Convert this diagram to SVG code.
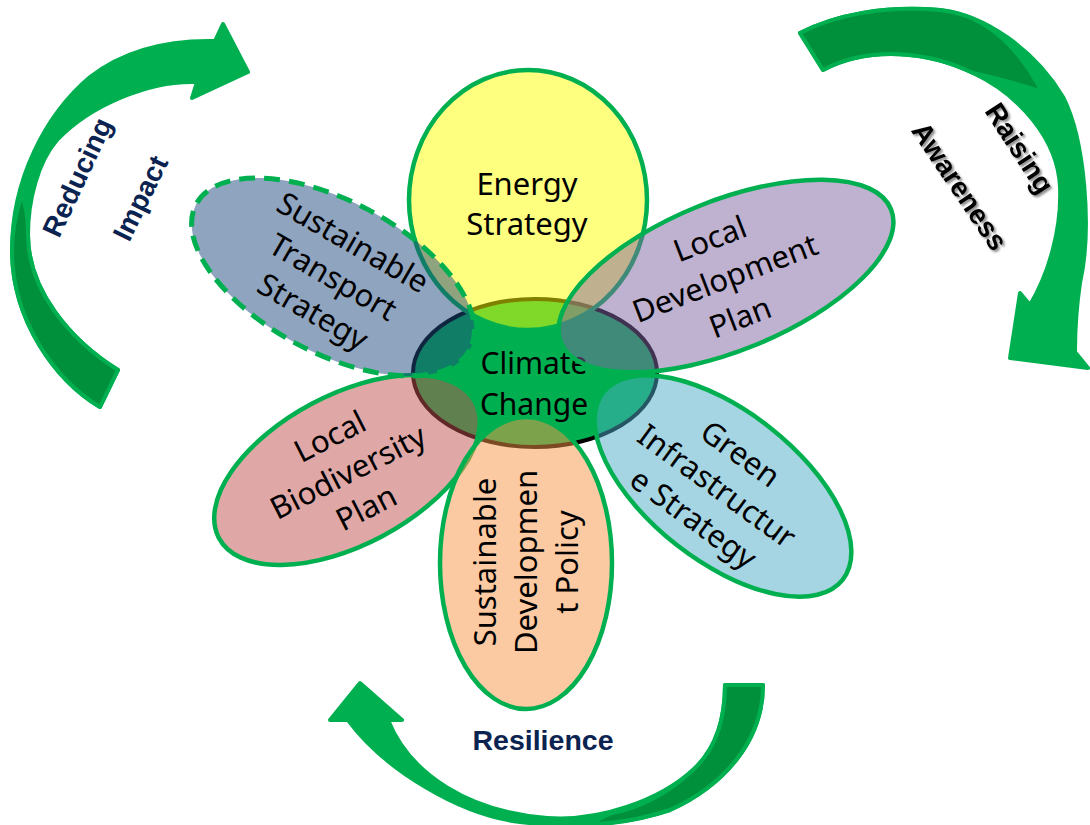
<svg xmlns="http://www.w3.org/2000/svg" width="1090" height="825" viewBox="0 0 1090 825">
<defs>
<style>
.arrow{fill:#00b050;stroke:#00b050;stroke-width:4;stroke-linejoin:round}
.back{fill:#008f3b;stroke:#00b050;stroke-width:4;stroke-linejoin:round}
.petal{fill-opacity:0.5;stroke:#00b050;stroke-width:4.5}
.lbl{font-family:"Noto Sans","Open Sans",sans-serif;font-size:31px;fill:#000;text-anchor:middle}
.cyc{font-family:"Liberation Sans",Arial,sans-serif;font-weight:bold;font-size:28px;text-anchor:middle}
</style>
<filter id="shadow" x="-20%" y="-20%" width="140%" height="140%">
<feDropShadow dx="2" dy="2" stdDeviation="1.2" flood-color="#000" flood-opacity="0.45"/>
</filter>
</defs>
<rect width="1090" height="825" fill="#ffffff"/>

<g id="connectors">
  <g id="arrow-reducing-impact">
    <path class="arrow" d="M100,407 C55,380 12,320 12,250 C12,180 45,115 90,77 C125,50 170,40 215,41 L223,24 L248,72 L192,98 L197,82 C150,80 90,105 57,140 C38,162 28,200 28,235 C28,290 70,340 118,370 Z"/>
    <path class="back" d="M22,194 C15,215 12,235 12,250 C12,320 55,380 100,407 L118,370 C70,340 28,290 28,235 C28,220 26,205 22,194 Z"/>
  </g>
  <g id="arrow-raising-awareness">
    <path class="arrow" d="M800,33 C835,15 885,5 940,10 C985,15 1035,50 1063,97 C1085,140 1092,230 1080,283 C1076,310 1075,335 1075,352 L1088,368 L1010,358 L1020,293 L1030,305 C1048,275 1062,230 1060,187 C1058,140 1020,95 973,73 C930,52 870,45 823,70 Z"/>
    <path class="back" d="M800,33 C835,15 885,5 940,10 C980,14 1015,40 1042,92 C1020,84 995,78 973,73 C930,52 870,45 823,70 Z"/>
  </g>
  <g id="arrow-resilience">
    <path class="arrow" d="M763,685 C763,740 725,785 670,810 C620,827 570,828 520,822 C460,815 385,770 348,720 L330,720 L360,683 L402,720 L388,720 C410,775 470,812 547,818 C600,822 660,800 693,770 C715,750 725,720 725,685 Z"/>
    <path class="back" d="M592,824 C625,823 650,816 670,810 C725,785 763,740 763,685 L725,685 C725,720 715,750 693,770 C670,792 640,808 612,813 Q600,818 592,824 Z"/>
  </g>
</g>

<g id="label-reducing-impact" fill="#0b2350">
  <text class="cyc" transform="translate(77,177) rotate(-65)" y="10">Reducing</text>
  <text class="cyc" transform="translate(140,198) rotate(-64)" y="10">Impact</text>
</g>
<g id="label-raising-awareness" fill="#000" filter="url(#shadow)">
  <text class="cyc" transform="translate(1020,148) rotate(57)" y="10">Raising</text>
  <text class="cyc" transform="translate(960,186) rotate(56)" y="10">Awareness</text>
</g>
<g id="label-resilience" fill="#0b2350">
  <text class="cyc" x="543" y="750" style="font-size:28.5px">Resilience</text>
</g>

<g id="climate-change">
  <ellipse cx="535" cy="373" rx="122" ry="74" fill="#00b050" stroke="#000" stroke-width="4"/>
  <text class="lbl" x="534" y="374" style="font-size:30px">Climate</text>
  <text class="lbl" x="534" y="415" style="font-size:30px">Change</text>
</g>

<g id="energy-strategy">
  <ellipse class="petal" cx="528" cy="200" rx="119" ry="130" fill="#ffff00"/>
  <text class="lbl" x="527" y="195">Energy</text>
  <text class="lbl" x="527" y="235">Strategy</text>
</g>

<g id="local-biodiversity-plan">
  <ellipse class="petal" cx="0" cy="0" rx="145" ry="75" fill="#c0504d" transform="translate(347,470) rotate(-28)"/>
  <g transform="translate(348,472) rotate(-27)">
    <text class="lbl" y="-29">Local</text>
    <text class="lbl" y="11">Biodiversity</text>
    <text class="lbl" y="51">Plan</text>
  </g>
</g>

<g id="sustainable-development-policy">
  <ellipse class="petal" cx="526" cy="563" rx="86" ry="146" fill="#f79646"/>
  <g transform="translate(526,562) rotate(-90)">
    <text class="lbl" y="-30">Sustainable</text>
    <text class="lbl" y="11">Developmen</text>
    <text class="lbl" y="52">t Policy</text>
  </g>
</g>

<g id="green-infrastructure-strategy">
  <ellipse class="petal" cx="0" cy="0" rx="152" ry="75" fill="#4bacc6" transform="translate(723,486) rotate(38)"/>
  <g transform="translate(717,486) rotate(36)">
    <text class="lbl" y="-29">Green</text>
    <text class="lbl" y="11">Infrastructur</text>
    <text class="lbl" y="51">e Strategy</text>
  </g>
</g>

<g id="local-development-plan">
  <ellipse class="petal" cx="0" cy="0" rx="178" ry="75" fill="#8064a2" transform="translate(726,276) rotate(-22)"/>
  <g transform="translate(725,278) rotate(-21)">
    <text class="lbl" y="-31">Local</text>
    <text class="lbl" y="11">Development</text>
    <text class="lbl" y="53">Plan</text>
  </g>
</g>

<g id="sustainable-transport-strategy">
  <ellipse class="petal" cx="0" cy="0" rx="155" ry="76" fill="#1f497d" stroke-dasharray="16 9" style="stroke-width:5" transform="translate(333,277) rotate(28)"/>
  <g transform="translate(333,277) rotate(30)">
    <text class="lbl" y="-29">Sustainable</text>
    <text class="lbl" y="11">Transport</text>
    <text class="lbl" y="51">Strategy</text>
  </g>
</g>
</svg>
